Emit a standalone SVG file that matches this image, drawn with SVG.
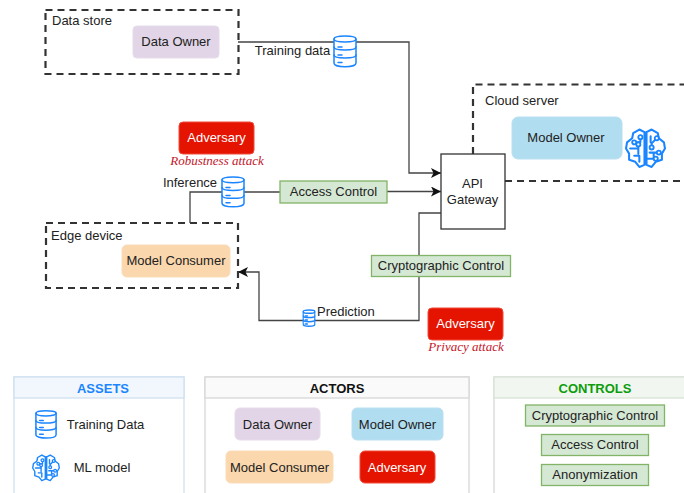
<svg xmlns="http://www.w3.org/2000/svg" xmlns:xlink="http://www.w3.org/1999/xlink" width="684" height="493" viewBox="0 0 684 493">
<style>
text{font-family:"Liberation Sans",Arial,sans-serif;font-size:13px;fill:#222;text-anchor:middle;dominant-baseline:central}
.l{text-anchor:start}
.w{fill:#fff}
.atk{font-family:"Liberation Serif","Times New Roman",serif;font-style:italic;font-size:13px;fill:#c4162a}
.h{font-weight:bold;font-size:13px}
.zone{fill:none;stroke:#333;stroke-width:2.2;stroke-dasharray:7 5}
.con{fill:none;stroke:#444;stroke-width:1.3}
.own{fill:#e1d5e7;stroke:#e6dcea;stroke-width:1}
.mo{fill:#b1ddf0;stroke:#b9e0f2;stroke-width:1}
.mc{fill:#fad7ac;stroke:#fbdcb8;stroke-width:1}
.adv{fill:#e51400;stroke:#ef4a3a;stroke-width:1}
.ctl{fill:#d5e8d4;stroke:#82b366;stroke-width:1.3}
.ic{fill:#fff;stroke:#1a85ff;stroke-width:1.5;stroke-linejoin:round;stroke-linecap:round}
.ib{fill:none;stroke:#1a85ff;stroke-width:1.5;stroke-linejoin:round;stroke-linecap:round}
.bb{fill:none;stroke:#1a85ff;stroke-width:2;stroke-linejoin:round;stroke-linecap:round}
.bc{fill:#fff;stroke:#1a85ff;stroke-width:1.800}
.panel{fill:#fff;stroke:#d8d8d8;stroke-width:1.3}
</style>
<defs>
<marker id="ar" markerUnits="userSpaceOnUse" markerWidth="12" markerHeight="10" refX="10" refY="5" orient="auto"><path d="M0 0L10 5L0 10L2.500 5Z" fill="#111"/></marker>
<symbol id="db" viewBox="0 0 24 36" preserveAspectRatio="none">
<path class="ic" vector-effect="non-scaling-stroke" d="M1 6C1 2 23 2 23 6V30C23 35 1 35 1 30Z"/>
<path class="ib" vector-effect="non-scaling-stroke" d="M1 6C1 10 23 10 23 6M1 14C1 18 23 18 23 14M1 22C1 26 23 26 23 22"/>
<path class="ib" vector-effect="non-scaling-stroke" d="M5 14H9M5 22H9M5 29.500H9"/>
</symbol>
<symbol id="brain" viewBox="0 0 40 40">
<path class="bb" d="M19 4L14 1.500L8 5L7 10L2 14L1 20L4 25L4 31L10 33L14 38L19 36V4M21 4L26 1.500L32 5L33 10L38 14L39 20L36 25L36 31L30 33L26 38L21 36V4"/>
<path class="bb" d="M9 14H15V10M5 20H13V16M13 20V25M9 27H14V33M25 8V14M31 10L26 15V19M24 24H33M28 24V29M22 30H30"/>
<circle class="bc" cx="15" cy="9" r="2"/><circle class="bc" cx="9" cy="14" r="2"/><circle class="bc" cx="13" cy="16" r="2"/><circle class="bc" cx="31" cy="10" r="2"/><circle class="bc" cx="26" cy="19" r="2"/><circle class="bc" cx="33" cy="24" r="2"/><circle class="bc" cx="30" cy="30" r="2"/>
</symbol>
</defs>
<rect width="684" height="493" fill="#fff"/>
<g id="zone-cloud"><path class="zone" d="M473 154V84.500H684M505 181H684"/><text class="l" x="485" y="100">Cloud server</text></g>
<g id="zone-store"><rect class="zone" x="45.500" y="10" width="193" height="64"/><text class="l" x="52" y="20.500">Data store</text></g>
<g id="zone-edge"><rect class="zone" x="46" y="223" width="192" height="65"/><text class="l" x="51" y="235">Edge device</text></g>
<g id="connectors">
<path class="con" d="M238 42H409V173H441" marker-end="url(#ar)"/>
<path class="con" d="M190 223V192H280"/>
<path class="con" d="M387 191.500H441" marker-end="url(#ar)"/>
<path class="con" d="M441 213H419V320.500H259V272H238" marker-end="url(#ar)"/>
</g>
<g id="data-owner"><rect class="own" x="133" y="26" width="86" height="32" rx="4"/><text x="176" y="41">Data Owner</text></g>
<g id="training-label"><rect x="254" y="43" width="76" height="15" fill="#fff"/><text x="292.500" y="50.500">Training data</text></g>
<g id="training-db"><use href="#db" x="333" y="33" width="24" height="36"/></g>
<g id="adversary-1"><rect class="adv" x="179" y="122" width="75" height="32" rx="4"/><text class="w" x="216.500" y="137.500">Adversary</text></g>
<text class="atk" x="217" y="160.500">Robustness attack</text>
<g id="inference-label"><text x="190" y="182.500">Inference</text></g>
<g id="inference-db"><use href="#db" x="221" y="174" width="24" height="35"/></g>
<g id="access-control"><rect class="ctl" x="280" y="181" width="107" height="22"/><text x="333.500" y="191">Access Control</text></g>
<g id="api-gateway"><rect x="441" y="154" width="64" height="75" fill="#fff" stroke="#333" stroke-width="1.300"/><text x="472.500" y="183">API</text><text x="472.500" y="199">Gateway</text></g>
<g id="model-owner"><rect class="mo" x="512" y="117" width="110" height="42" rx="6"/><text x="566" y="137">Model Owner</text></g>
<g id="brain-cloud"><use href="#brain" x="625" y="128" width="41" height="41"/></g>
<g id="model-consumer"><rect class="mc" x="122" y="245" width="108" height="32" rx="5"/><text x="176" y="260">Model Consumer</text></g>
<g id="crypto-control"><rect class="ctl" x="371.500" y="255.500" width="139" height="21"/><text x="441" y="265.500">Cryptographic Control</text></g>
<g id="prediction-db"><use href="#db" x="302.500" y="308.500" width="13" height="19"/></g>
<text class="l" x="317" y="311.500">Prediction</text>
<g id="adversary-2"><rect class="adv" x="428" y="308" width="75" height="32" rx="4"/><text class="w" x="465.500" y="323">Adversary</text></g>
<text class="atk" x="466" y="346">Privacy attack</text>
<g id="legend-assets">
<rect class="panel" x="14" y="377" width="170" height="120" style="stroke:#cfe0f0"/>
<rect x="14" y="377" width="170" height="21" fill="#f2f7fd" stroke="#cfe0f0" stroke-width="1.300"/>
<text class="h" x="103" y="388" style="fill:#1a85ff">ASSETS</text>
<use href="#db" x="35" y="408" width="22" height="32"/>
<text x="105.500" y="424">Training Data</text>
<use href="#brain" x="32" y="454" width="28" height="28"/>
<text x="102" y="467">ML model</text>
</g>
<g id="legend-actors">
<rect class="panel" x="205" y="377" width="264" height="120"/>
<rect x="205" y="377" width="264" height="21" fill="#fafafa" stroke="#d8d8d8" stroke-width="1.300"/>
<text class="h" x="337" y="388" style="fill:#111">ACTORS</text>
<rect class="own" x="235" y="408" width="85" height="32" rx="5"/><text x="277.500" y="424">Data Owner</text>
<rect class="mo" x="352" y="408" width="91" height="32" rx="5"/><text x="397.500" y="424">Model Owner</text>
<rect class="mc" x="226" y="451" width="107" height="32" rx="5"/><text x="279.500" y="467">Model Consumer</text>
<rect class="adv" x="360" y="451" width="75" height="32" rx="5"/><text class="w" x="397" y="467">Adversary</text>
</g>
<g id="legend-controls">
<rect class="panel" x="494" y="377" width="200" height="120"/>
<rect x="494" y="377" width="200" height="21" fill="#f1f7f0" stroke="#d8e4d6" stroke-width="1.300"/>
<text class="h" x="595" y="388" style="fill:#0d9c0d">CONTROLS</text>
<rect class="ctl" x="525.500" y="405" width="139" height="21"/><text x="595" y="415.500">Cryptographic Control</text>
<rect class="ctl" x="541.500" y="434.500" width="107" height="21"/><text x="595" y="444.500">Access Control</text>
<rect class="ctl" x="541.500" y="464.500" width="107" height="21"/><text x="595" y="474.500">Anonymization</text>
</g>
</svg>
